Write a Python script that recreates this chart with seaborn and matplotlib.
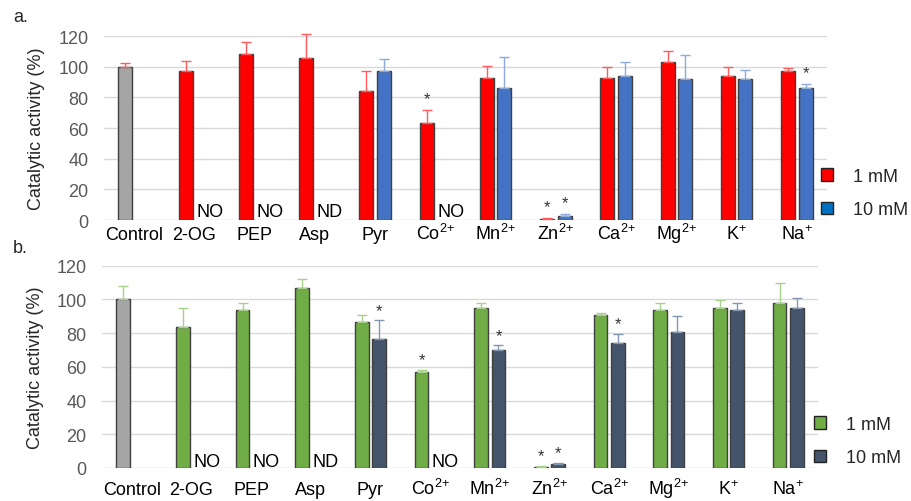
import numpy as np
import pandas as pd
import matplotlib
matplotlib.use('Agg')
from matplotlib import pyplot as plt
from matplotlib.patches import Patch
import seaborn as sns

nan = np.nan

categories = ['Control', '2-OG', 'PEP', 'Asp', 'Pyr', r'$Co^{2{+}}$', r'$Mn^{2{+}}$',
              r'$Zn^{2{+}}$', r'$Ca^{2{+}}$', r'$Mg^{2{+}}$', r'$K^{+}$', r'$Na^{+}$']
doses = ['1 mM', '10 mM']

# panel a
a_1mm = [100, 97.5, 108.5, 105.5, 84, 63, 92.5, 0.9, 92.5, 103, 94, 97.5]
a_1mm_err = [2.5, 6.5, 7.5, 16, 13, 9, 8, 0.6, 7.5, 7, 6, 1.5]
a_10mm = [nan, nan, nan, nan, 97.5, nan, 86, 2.4, 94, 92, 92, 86]
a_10mm_err = [nan, nan, nan, nan, 7.5, nan, 20.5, 1.5, 9.2, 15.8, 5.8, 2.8]
a_star_1mm = [0, 0, 0, 0, 0, 1, 0, 1, 0, 0, 0, 0]
a_star_10mm = [0, 0, 0, 0, 0, 0, 0, 1, 0, 0, 0, 1]
a_notes = ['', 'NO', 'NO', 'ND', '', 'NO', '', '', '', '', '', '']

# panel b
b_1mm = [100, 83.5, 93.5, 107, 86.5, 57, 95, 0.8, 90.5, 93.5, 95, 98]
b_1mm_err = [8, 11.7, 4.4, 5, 4.5, 1.4, 2.8, 0.6, 1.2, 4.2, 4.9, 11.6]
b_10mm = [nan, nan, nan, nan, 76.3, nan, 69.8, 2.2, 73.9, 80.5, 93.5, 95]
b_10mm_err = [nan, nan, nan, nan, 11.5, nan, 3.3, 1.0, 5.8, 9.5, 4.2, 5.7]
b_star_1mm = [0, 0, 0, 0, 0, 1, 0, 1, 0, 0, 0, 0]
b_star_10mm = [0, 0, 0, 0, 1, 0, 1, 1, 1, 0, 0, 0]
b_notes = ['', 'NO', 'NO', 'ND', '', 'NO', '', '', '', '', '', '']

sns.set_style('whitegrid')
plt.rcParams['font.family'] = ['Liberation Sans', 'DejaVu Sans']
plt.rcParams['mathtext.default'] = 'regular'

CONTROL = '#a5a5a5'
EDGE = '#404040'


def draw_panel(ax, v1, e1, v10, e10, s1, s10, notes, colors, errcolors,
               legcolors, ctrl_err, star_off, note_y):
    df = pd.DataFrame({
        'compound': categories * 2,
        'dose': [doses[0]] * len(categories) + [doses[1]] * len(categories),
        'activity': list(v1) + list(v10),
    }).dropna()
    sns.barplot(data=df, x='compound', y='activity', hue='dose',
                order=categories, hue_order=doses,
                palette=dict(zip(doses, colors)), width=0.58, gap=0.2,
                errorbar=None, edgecolor=EDGE, linewidth=1, legend=False,
                saturation=1, ax=ax)
    errs = [e1, e10]
    stars = [s1, s10]
    off = None
    for p in ax.patches:
        xc = p.get_x() + p.get_width() / 2
        i = int(round(xc))
        h = 0 if xc < i else 1
        if h == 0:
            off = i - xc
            bw = p.get_width()
        top = p.get_height()
        ec = errcolors[h]
        if i == 0:
            p.set_facecolor(CONTROL)
            ec = ctrl_err
        ax.errorbar(xc, top, yerr=[[0], [errs[h][i]]], fmt='none', ecolor=ec,
                    elinewidth=1, capsize=3.5, capthick=1, clip_on=False, zorder=3)
        if stars[h][i]:
            ax.text(xc, top + errs[h][i] + star_off, '*', ha='center',
                    va='baseline', fontsize=12, color='#333333')
    for i, t in enumerate(notes):
        if t:
            ax.text(i + off - bw / 2, note_y, t, ha='left', va='baseline',
                    fontsize=13, color='black')

    ax.set_xlim(-0.5, len(categories) - 0.5)
    ax.set_ylim(0, 120)
    ax.set_yticks(range(0, 121, 20))
    ax.set_xlabel('')
    ax.set_ylabel('Catalytic activity (%)', fontsize=13)
    ax.grid(axis='y', color='#d9d9d9', linewidth=1)
    ax.grid(axis='x', visible=False)
    ax.set_axisbelow(True)
    for s in ax.spines.values():
        s.set_visible(False)
    ax.tick_params(axis='y', length=0, labelsize=13, labelcolor='#595959', pad=11)
    ax.tick_params(axis='x', length=0, labelsize=13, labelcolor='black')
    for t in ax.get_xticklabels():
        t.set_va('baseline')
    handles = [Patch(facecolor=c, edgecolor='#222222', linewidth=1) for c in legcolors]
    return handles


fig = plt.figure(figsize=(9.11, 5.02), dpi=100)
W, H = 911, 502

ax_a = fig.add_axes([104 / W, 1 - 221 / H, 723 / W, 184 / H])
h_a = draw_panel(ax_a, a_1mm, a_1mm_err, a_10mm, a_10mm_err, a_star_1mm,
                 a_star_10mm, a_notes, ['#ff0000', '#4472c4'],
                 ['#ff5b5b', '#8eaadb'], ['#ff0000', '#0070c0'], '#ff5b5b',
                 4.5, 2.5)
ax_a.tick_params(axis='x', pad=14)
ax_a.yaxis.set_label_coords((45 - 104) / 723, 0.5)
ax_a.legend(handles=h_a, labels=doses, loc='upper left',
            bbox_to_anchor=(821 / W, 1 - 169 / H), bbox_transform=fig.transFigure,
            frameon=False, fontsize=13, borderpad=0, borderaxespad=0,
            handlelength=0.65, handleheight=0.7, handletextpad=1.1,
            labelspacing=0.9)

ax_b = fig.add_axes([102 / W, 1 - 469 / H, 716 / W, 202.3 / H])
h_b = draw_panel(ax_b, b_1mm, b_1mm_err, b_10mm, b_10mm_err, b_star_1mm,
                 b_star_10mm, b_notes, ['#70ad47', '#44546a'],
                 ['#a9d18e', '#8497b0'], ['#70ad47', '#44546a'], '#a9d18e',
                 3.0, 1.0)
ax_b.tick_params(axis='x', pad=19)
ax_b.yaxis.set_label_coords((44 - 102) / 716, 0.5)
ax_b.legend(handles=h_b, labels=doses, loc='upper left',
            bbox_to_anchor=(814 / W, 1 - 417 / H), bbox_transform=fig.transFigure,
            frameon=False, fontsize=13, borderpad=0, borderaxespad=0,
            handlelength=0.65, handleheight=0.7, handletextpad=1.1,
            labelspacing=0.9)

fig.text(13 / W, 1 - 22 / H, 'a.', fontsize=13, va='baseline')
fig.text(13 / W, 1 - 253 / H, 'b.', fontsize=13, va='baseline')

fig.savefig('out.png', dpi=100)
